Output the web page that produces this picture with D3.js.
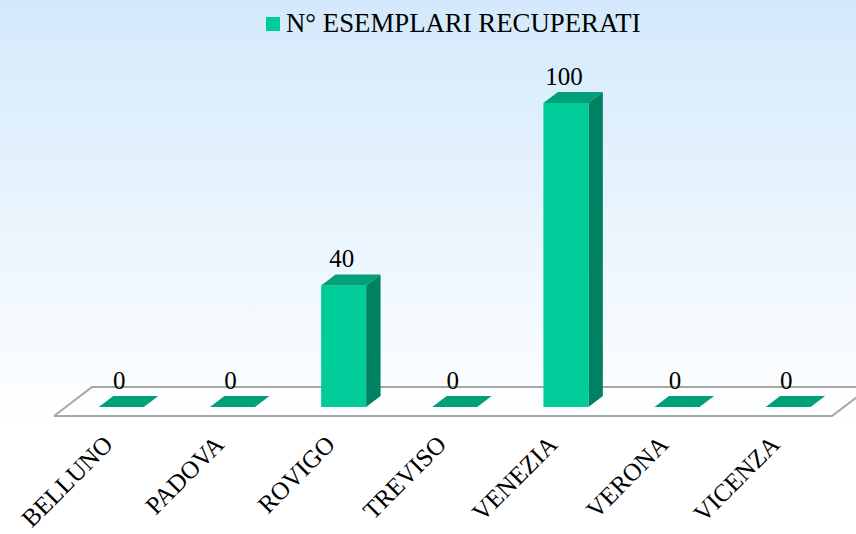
<!DOCTYPE html>
<html>
<head>
<meta charset="utf-8">
<script src="https://cdn.jsdelivr.net/npm/d3@7"></script>
<style>
  html, body { margin: 0; padding: 0; background: #fff; }
  svg { display: block; }
</style>
</head>
<body>
<svg id="chart" width="856" height="534"></svg>
<script>
// Specimens recovered per province
const categories = ["BELLUNO", "PADOVA", "ROVIGO", "TREVISO", "VENEZIA", "VERONA", "VICENZA"];
const values = [0, 0, 40, 0, 100, 0, 0];
const seriesName = "N° ESEMPLARI RECUPERATI";

const W = 856, H = 534;
const FONT = "'Liberation Serif', 'Times New Roman', Tinos, serif";
const svg = d3.select("#chart").style("font-family", FONT);

// background gradient
const defs = svg.append("defs");
const grad = defs.append("linearGradient").attr("id", "bg").attr("x1", 0).attr("y1", 0).attr("x2", 0).attr("y2", 1);
grad.append("stop").attr("offset", "0%").attr("stop-color", "#d3e9fb");
grad.append("stop").attr("offset", "80%").attr("stop-color", "#ffffff");
grad.append("stop").attr("offset", "100%").attr("stop-color", "#ffffff");
svg.append("rect").attr("width", W).attr("height", H).attr("fill", "url(#bg)");

// floor geometry (front edge and depth vector)
const floorFrontY = 416;
const depth = { dx: 38, dy: -29 };
const t0 = 0.31, t1 = 0.69; // bar occupies middle of depth

const x = d3.scaleBand().domain(categories).range([54, 832]).paddingInner(0).paddingOuter(0);
const barW = 45;
const y = d3.scaleLinear().domain([0, 100]).range([0, 304]);

// floor outline
const fl = svg.append("g").attr("fill", "none").attr("stroke", "#a6a6a6").attr("stroke-width", 2);
const x0 = x.range()[0], x1 = x.range()[1];
fl.append("path").attr("d", d3.line()([
  [x0, floorFrontY], [x0 + depth.dx, floorFrontY + depth.dy],
  [x1 + depth.dx, floorFrontY + depth.dy], [x1, floorFrontY], [x0, floorFrontY]
]));

const bdx = (t1 - t0) * depth.dx, bdy = (t1 - t0) * depth.dy;
const bars = svg.append("g");

categories.forEach((c, i) => {
  const v = values[i];
  const fx = x(c) + (x.bandwidth() - barW) / 2 + t0 * depth.dx;
  const fy = floorFrontY + t0 * depth.dy; // front bottom
  const h = y(v);
  const top = fy - h;
  const g = bars.append("g");
  if (h > 0) {
    // side
    g.append("path").attr("fill", "#008262").attr("d", d3.line()([
      [fx + barW, fy], [fx + barW + bdx, fy + bdy], [fx + barW + bdx, top + bdy], [fx + barW, top]
    ]));
    // front
    g.append("rect").attr("x", fx).attr("y", top).attr("width", barW).attr("height", h).attr("fill", "#00cc99");
  }
  // top
  g.append("path").attr("fill", "#00a078").attr("d", d3.line()([
    [fx, top], [fx + bdx, top + bdy], [fx + barW + bdx, top + bdy], [fx + barW, top]
  ]));
  // value label
  svg.append("text")
    .attr("x", fx + barW / 2 - 2)
    .attr("y", top + bdy - 7)
    .attr("text-anchor", "middle")
    .attr("font-size", 25)
    .text(v);
  // category label
  const lx = fx + barW / 2 - 7, ly = 446;
  svg.append("text")
    .attr("transform", `translate(${lx},${ly}) rotate(-45)`)
    .attr("text-anchor", "end")
    .attr("font-size", 25)
    .text(c);
});

// legend
const lg = svg.append("g");
lg.append("rect").attr("x", 266).attr("y", 17).attr("width", 14).attr("height", 14).attr("fill", "#00cc99");
lg.append("text").attr("x", 286).attr("y", 31.5).attr("font-size", 26.8).text(seriesName);
</script>
</body>
</html>
